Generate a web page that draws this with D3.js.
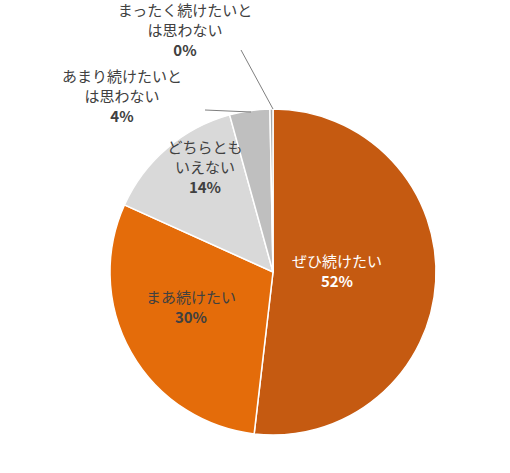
<!DOCTYPE html>
<html><head><meta charset="utf-8">
<script src="https://cdn.jsdelivr.net/npm/d3@7"></script>
<style>body{margin:0;background:#fff}</style>
</head><body>
<svg id="c" width="510" height="473"></svg>
<script>
// data
const categories = ["ぜひ続けたい", "まあ続けたい", "どちらとも\nいえない", "あまり続けたいと\nは思わない", "まったく続けたいと\nは思わない"];
const values = [52, 30, 14, 4, 0.3];
const pctLabels = ["52%", "30%", "14%", "4%", "0%"];
const colors = ["#C55A11", "#E46C0A", "#D9D9D9", "#BFBFBF", "#A6A6A6"];

const svg = d3.select("#c");
const cx = 273, cy = 272, r = 163;
const g = svg.append("g").attr("transform", `translate(${cx},${cy})`);

const pie = d3.pie().sort(null)(values);
const arc = d3.arc().innerRadius(0).outerRadius(r);

g.selectAll("path").data(pie).enter().append("path")
  .attr("d", arc).attr("fill", (d, i) => colors[i])
  .attr("stroke", "#fff").attr("stroke-width", 1.5);

// label positions (relative to center)
const labelPos = [[64, 0], [-82, 36], [-68, -104], [-151, -175], [-88, -241]];
const textCol = ["#fff", "#404040", "#404040", "#404040", "#404040"];

pie.forEach((d, i) => {
  const lines = categories[i].split("\n").concat(pctLabels[i]);
  const [lx, ly] = labelPos[i];
  const t = g.append("text").attr("text-anchor", "middle")
    .attr("font-family", "'Noto Sans CJK JP', sans-serif").attr("font-size", 15)
    .attr("fill", textCol[i]);
  lines.forEach((s, k) => {
    t.append("tspan").attr("x", lx).attr("y", ly + (k - (lines.length - 1) / 2) * 20 + 5)
      .attr("font-weight", k === lines.length - 1 ? "bold" : "normal").text(s);
  });
});

// leader lines
const leader = d3.line();
g.append("path").attr("d", leader([[-68, -162], [-22, -160]]))
  .attr("stroke", "#7f7f7f").attr("fill", "none");
g.append("path").attr("d", leader([[-32, -222], [0, -163]]))
  .attr("stroke", "#7f7f7f").attr("fill", "none");
</script>
</body></html>
